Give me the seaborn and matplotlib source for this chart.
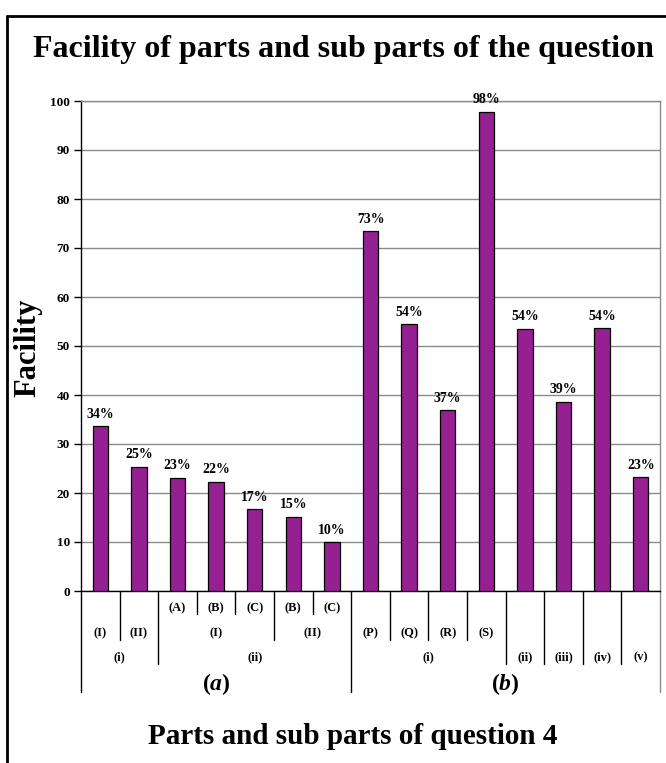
import pandas as pd
import seaborn as sns
import matplotlib.pyplot as plt
from matplotlib.lines import Line2D
from matplotlib.transforms import blended_transform_factory

# facility values (%) per sub part
values = [33.6, 25.3, 23.1, 22.3, 16.7, 15.2, 9.9, 73.4, 54.4, 36.9, 97.8, 53.5, 38.6, 53.6, 23.2]
pct_labels = ['34%', '25%', '23%', '22%', '17%', '15%', '10%', '73%', '54%', '37%', '98%', '54%', '39%', '54%', '23%']

# category hierarchy, innermost level first
level1 = ['', '', '(A)', '(B)', '(C)', '(B)', '(C)', '', '', '', '', '', '', '', '']
level2 = ['(I)', '(II)', '(I)', '(I)', '(I)', '(II)', '(II)', '(P)', '(Q)', '(R)', '(S)', '', '', '', '']
level3 = ['(i)', '(i)', '(ii)', '(ii)', '(ii)', '(ii)', '(ii)', '(i)', '(i)', '(i)', '(i)', '(ii)', '(iii)', '(iv)', '(v)']
level4 = ['a'] * 7 + ['b'] * 8

levels = [level1, level2, level3, level4]
n = len(values)

df = pd.DataFrame({'pos': [str(i) for i in range(n)], 'facility': values})

sns.set_theme(style='white')
plt.rcParams['font.family'] = ['Liberation Serif', 'DejaVu Serif']
plt.rcParams['font.weight'] = 'bold'
plt.rcParams['text.color'] = 'black'
plt.rcParams['axes.labelcolor'] = 'black'
plt.rcParams['ytick.color'] = 'black'
plt.rcParams['mathtext.fontset'] = 'custom'
plt.rcParams['mathtext.it'] = 'Liberation Serif:italic:bold'

fig = plt.figure(figsize=(6.66, 7.63), dpi=100)
W, H = 666, 763
ax_l, ax_r, ax_t, ax_b = 81, 660, 101, 591
ax = fig.add_axes([ax_l / W, 1 - ax_b / H, (ax_r - ax_l) / W, (ax_b - ax_t) / H])

sns.barplot(data=df, x='pos', y='facility', color='#942092', width=0.4,
            edgecolor='black', linewidth=0.9, saturation=1, ax=ax, zorder=3)
ax.bar_label(ax.containers[0], labels=pct_labels, padding=4, fontsize=10, fontweight='bold')

ax.set_ylim(0, 100)
ax.set_xlim(-0.5, n - 0.5)
ax.set_yticks(range(0, 101, 10))
ax.yaxis.grid(True, color='#8a8a8a', linewidth=1, zorder=0)
ax.tick_params(axis='y', left=True, length=5, width=1, color='black', labelsize=9.5, pad=3)
for t in ax.get_yticklabels():
    t.set_fontweight('bold')
ax.set_xticks([])
ax.set_xlabel('')
ax.set_ylabel('')
ax.spines['left'].set_color('black')
ax.spines['bottom'].set_color('black')
ax.spines['top'].set_color('#8a8a8a')
ax.spines['right'].set_color('#8a8a8a')
for s in ax.spines.values():
    s.set_linewidth(1)

# hierarchical category axis
trans = blended_transform_factory(ax.transData, ax.transAxes)
hpx = ax_b - ax_t


def below(py):
    return -(py - ax_b) / hpx


row_text = [608, 633, 657, 684]
row_bottom = [614, 640, 664, 692]

# separators: depth = outermost level where neighbours differ
bounds = [-0.5] + [i + 0.5 for i in range(n - 1)] + [n - 0.5]
for b in bounds:
    if b == -0.5 or b == n - 0.5:
        depth = 3
    else:
        i = int(b - 0.5)
        depth = max(k for k in range(4) if levels[k][i] != levels[k][i + 1])
    col = '#8a8a8a' if b == n - 0.5 else 'black'
    ax.plot([b, b], [0, below(row_bottom[depth])], transform=trans, color=col,
            linewidth=1, clip_on=False)

# group labels, centred over runs sharing the same path
for k in range(4):
    i = 0
    while i < n:
        j = i
        path = tuple(levels[m][i] for m in range(k, 4))
        while j + 1 < n and tuple(levels[m][j + 1] for m in range(k, 4)) == path:
            j += 1
        lab = levels[k][i]
        if lab:
            xc = (i + j) / 2
            if k == 3:
                ax.text(xc, below(row_text[k]), f'(${lab}$)', transform=trans, ha='center',
                        va='center', fontsize=17, fontweight='bold')
            else:
                ax.text(xc, below(row_text[k]), lab, transform=trans, ha='center',
                        va='center', fontsize=9, fontweight='bold')
        i = j + 1

fig.text(343 / W, 1 - 50 / H, 'Facility of parts and sub parts of the question',
         ha='center', va='center', fontsize=23, fontweight='bold')
fig.text(28 / W, 1 - 348 / H, 'Facility', rotation=90, ha='center', va='center',
         fontsize=22, fontweight='bold')
fig.text(353 / W, 1 - 737 / H, 'Parts and sub parts of question 4',
         ha='center', va='center', fontsize=21, fontweight='bold')

# outer frame (left and top edges visible)
fig.add_artist(Line2D([7 / W, 7 / W], [0, 1 - 16 / H], color='black', linewidth=2,
                      transform=fig.transFigure))
fig.add_artist(Line2D([7 / W, 1], [1 - 16 / H, 1 - 16 / H], color='black', linewidth=2,
                      transform=fig.transFigure))

fig.savefig('out.png', dpi=100)
